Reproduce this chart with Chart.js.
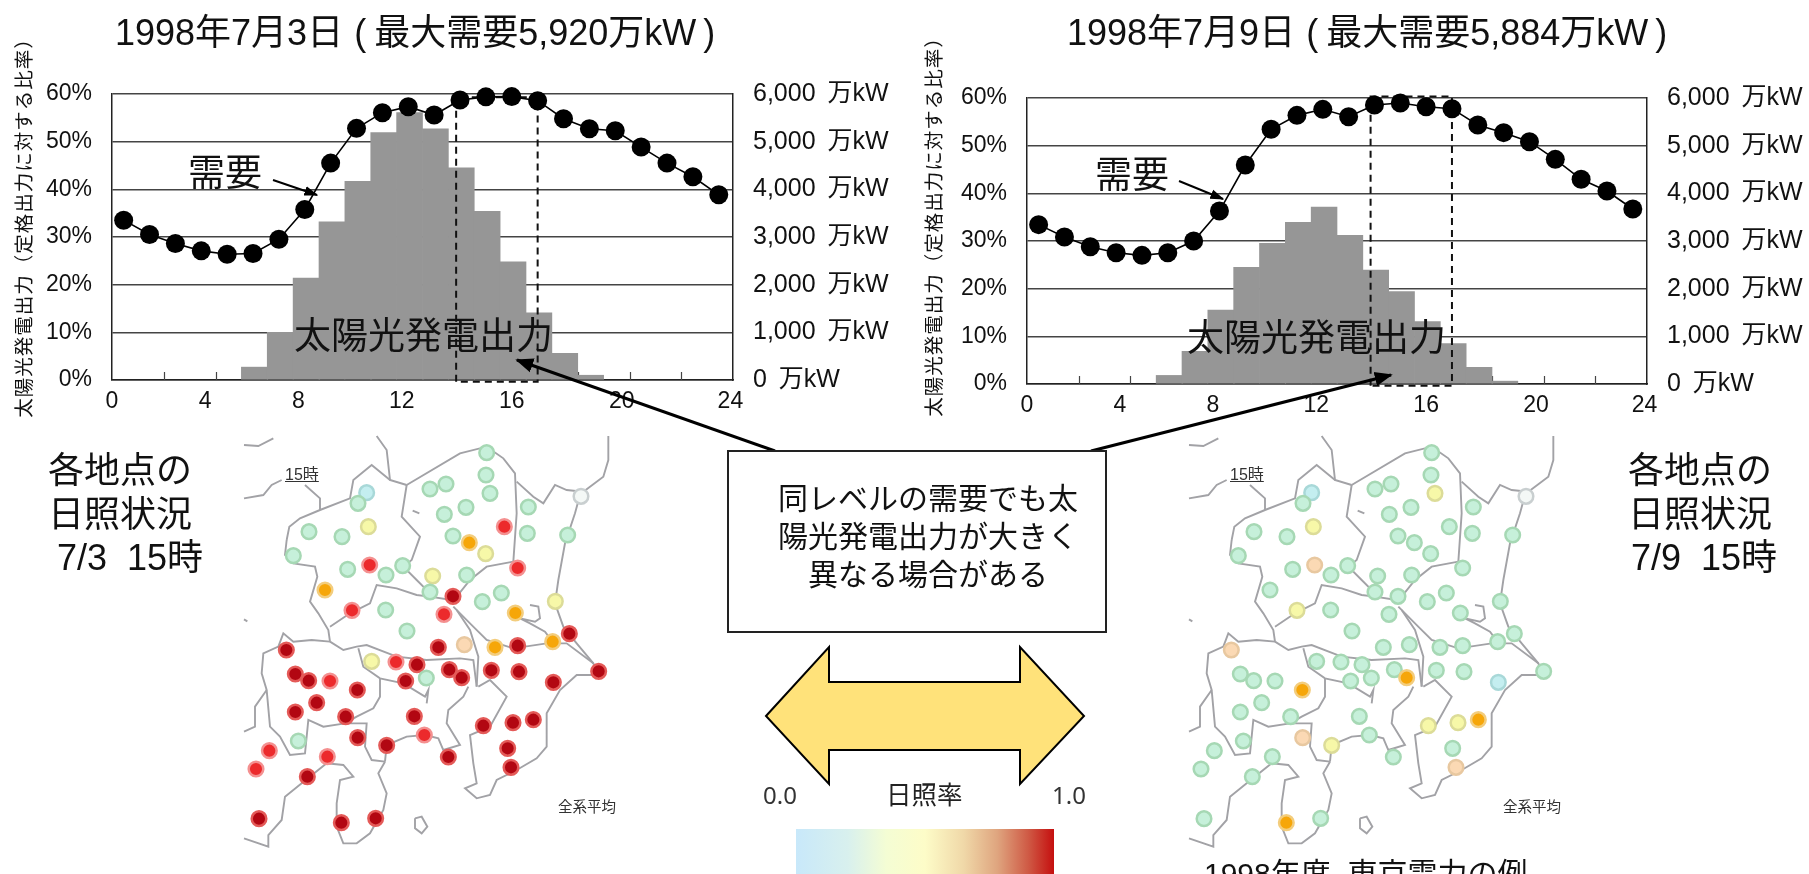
<!DOCTYPE html>
<html lang="ja"><head><meta charset="utf-8">
<script src="https://cdn.jsdelivr.net/npm/chart.js@4"></script>
<style>
html,body{margin:0;padding:0;width:1809px;height:874px;overflow:hidden;background:#fff}
body{position:relative;font-family:"Liberation Sans","Noto Sans CJK JP",sans-serif;color:#111}
canvas{position:absolute;display:block}
.t{position:absolute;white-space:pre;line-height:1;z-index:5}
.c{transform:translateX(-50%);text-align:center}
.v{font-size:19.5px;letter-spacing:1px;transform:translate(-50%,-50%) rotate(-90deg)}
.b{filter:blur(.55px);color:#333}
.pl{margin-left:1px;margin-right:8px}.pr{margin-left:7px}
.nudge{position:relative}
svg{position:absolute;left:0;top:0;z-index:4}
#bar{position:absolute;left:796px;top:829px;width:258px;height:45px;background:linear-gradient(90deg,#c8e8fa 0%,#d8f0ee 20%,#f4fdd4 35%,#fdfcc8 50%,#f0d8a8 65%,#dfa57f 78%,#cf5a45 90%,#c50f0f 100%)}
</style></head><body>
<canvas id="c1" style="left:0;top:0"></canvas>
<canvas id="c2" style="left:905px;top:0"></canvas>
<canvas id="m1" style="left:230px;top:430px;filter:blur(.6px)"></canvas>
<canvas id="m2" style="left:1175px;top:430px;filter:blur(.6px)"></canvas>

<svg width="1809" height="874">
<defs><marker id="h" viewBox="0 0 10 10" refX="9" refY="5" markerWidth="6" markerHeight="6" orient="auto"><path d="M0 1L10 5L0 9z" fill="#000"/></marker>
<marker id="h2" viewBox="0 0 10 10" refX="9" refY="5" markerWidth="7" markerHeight="7" orient="auto"><path d="M0 1.5L10 5L0 8.5z" fill="#000"/></marker></defs>
<line x1="273" y1="180" x2="317" y2="195" stroke="#000" stroke-width="2" marker-end="url(#h2)"/>
<line x1="1179" y1="181" x2="1223" y2="199" stroke="#000" stroke-width="2" marker-end="url(#h2)"/>
<line x1="775" y1="451" x2="517" y2="360" stroke="#000" stroke-width="3" marker-end="url(#h)"/>
<line x1="1091" y1="451" x2="1391" y2="375" stroke="#000" stroke-width="3" marker-end="url(#h)"/>
<rect x="728" y="451" width="378" height="181" fill="#fff" stroke="#222" stroke-width="2"/>
<polygon points="766,716 829,647 829,682 1020,682 1020,647 1084,716 1020,784 1020,750 829,750 829,784" fill="#ffe27a" stroke="#000" stroke-width="2"/>
</svg>
<div id="bar"></div>

<div class="t" style="left:115px;top:15px;font-size:36px">1998年7月3日<span class="pl"> (</span>最大需要5,920万kW<span class="pr">)</span></div>
<div class="t" style="left:1067px;top:15px;font-size:36px">1998年7月9日<span class="pl"> (</span>最大需要5,884万kW<span class="pr">)</span></div>
<div class="t v" style="left:25px;top:223px">太陽光発電出力（定格出力に対する比率）</div>
<div class="t v" style="left:935px;top:222px">太陽光発電出力（定格出力に対する比率）</div>
<div class="t" style="left:188px;top:155px;font-size:37px">需要</div>
<div class="t" style="left:1095px;top:157px;font-size:37px">需要</div>
<div class="t" style="left:294px;top:318px;font-size:37px">太陽光発電出力</div>
<div class="t" style="left:1187px;top:320px;font-size:37px">太陽光発電出力</div>

<div class="t c" style="left:120px;top:449px;font-size:36px;line-height:43.5px">各地点の
日照状況
<span class="nudge" style="left:10px">7/3  15時</span></div>
<div class="t c" style="left:1700px;top:449px;font-size:36px;line-height:43.5px">各地点の
日照状況
<span class="nudge" style="left:4px">7/9  15時</span></div>
<div class="t c" style="left:928px;top:477px;font-size:30px;line-height:38px;font-family:'Noto Sans CJK JP'">同レベルの需要でも太
陽光発電出力が大きく
異なる場合がある</div>
<div class="t" style="left:763px;top:783px;font-size:24px;font-family:'Noto Sans';color:#333">0.0</div>
<div class="t" style="left:886px;top:783px;font-size:25.5px;color:#222">日照率</div>
<div class="t" style="left:1052px;top:783px;font-size:24px;font-family:'Noto Sans';color:#333">1.0</div>
<div class="t" style="left:1204px;top:859px;font-size:30px">1998年度  東京電力の例</div>
<div class="t b" style="left:285px;top:467px;font-size:16px;text-decoration:underline">15時</div>
<div class="t b" style="left:1230px;top:467px;font-size:16px;text-decoration:underline">15時</div>
<div class="t b" style="left:558px;top:800px;font-size:14.5px">全系平均</div>
<div class="t b" style="left:1503px;top:800px;font-size:14.5px">全系平均</div>

<script>
// ---- Hours and tick values
const hours = [0.45,1.45,2.45,3.45,4.45,5.45,6.45,7.45,8.45,9.45,10.45,11.45,12.45,13.45,14.45,15.45,16.45,17.45,18.45,19.45,20.45,21.45,22.45,23.45];
const solarHours = [5.5,6.5,7.5,8.5,9.5,10.5,11.5,12.5,13.5,14.5,15.5,16.5,17.5,18.5];
const hourLabels = ['0','4','8','12','16','20','24'];
const hourLabelPlaces = [0,3.6,7.2,11.2,15.45,19.7,23.9];

// ---- 1998-07-03
const demandJul3 = [3353,3052,2863,2709,2639,2653,2954,3577,4550,5279,5608,5734,5559,5874,5940,5945,5860,5482,5272,5230,4887,4550,4264,3885];
const solarJul3 = [2.7,10,21.4,33.2,41.7,51.9,56.1,52.7,44.5,35.4,24.8,14.1,5.6,1.0];
// ---- 1998-07-09
const demandJul9 = [3343,3084,2881,2755,2699,2755,3000,3629,4594,5343,5636,5762,5608,5853,5895,5818,5776,5434,5273,5084,4713,4294,4049,3671];
const solarJul9 = [1.8,6.85,15.5,24.5,29.5,33.9,37.1,31.2,23.9,19.4,13.1,8.5,3.5,0.6];

// ---- Comparison window (hours) and its top, in 万kW
const windowHours = [13.3,13.3,16.45,16.45,13.3];
const windowJul3 = [-35,5930,5930,-35,-35];
const windowJul9 = [-35,6030,6030,-35,-35];

// ---- Stations: map coordinates
const stationX = [770,768,648,600,780,410,384,708,643,895,1053,415,237,336,823,892,1013,669,718,767,190,353,419,518,468,608,710,863,285,600,669,757,814,976,467,366,642,856,531,1018,625,703,795,863,968,169,425,498,561,658,695,784,867,1106,196,236,300,527,589,382,970,260,196,347,553,760,849,910,205,383,583,470,118,292,655,833,78,843,232,87,334,437];
const stationY = [68,135,162,177,190,188,220,232,253,231,199,290,305,320,290,310,315,318,338,371,377,418,405,407,435,438,435,414,480,486,499,515,489,514,540,541,553,549,603,611,652,644,652,647,635,660,694,696,704,719,743,721,725,724,732,752,753,753,744,780,757,818,846,860,859,887,878,869,933,923,915,946,962,980,981,955,1017,1012,1040,1166,1178,1165];
// ---- Sunshine rate at each station, 15:00
const sunJul3 = [.15,.15,.15,.15,.15,.05,.15,.15,.15,.15,.02,.42,.15,.15,.85,.15,.15,.15,.6,.35,.15,.15,.85,.15,.15,.35,.15,.85,.6,.15,1,.15,.15,.35,.15,.85,.85,.6,.15,1,1,.5,.6,1,.6,1,.35,.85,1,1,1,1,1,1,1,1,.85,1,.15,1,1,1,1,1,1,1,1,1,.15,1,.85,1,.85,.85,1,1,.85,1,1,1,1,1];
const sunJul9 = [.15,.15,.15,.15,.35,.05,.15,.15,.15,.15,.02,.35,.15,.15,.15,.15,.15,.15,.15,.15,.15,.15,.5,.15,.15,.15,.15,.15,.15,.15,.15,.15,.15,.15,.15,.35,.15,.15,.15,.15,.15,.15,.15,.15,.15,.5,.15,.15,.15,.15,.6,.15,.15,.15,.15,.15,.15,.15,.15,.6,.05,.15,.15,.15,.15,.35,.35,.6,.15,.5,.15,.35,.15,.15,.15,.15,.15,.5,.15,.15,.6,.15];

// ---- Map outlines (coastline and prefecture borders)
const outlineNW = [[42,45],[85,48],[130,25]];
const outlineW = [[42,205],[100,195],[125,165],[155,150]];
const outlineLabel = [[225,165],[270,205],[270,240]];
const outlineNorth = [[440,18],[470,60],[480,150],[530,165]];
const outlineGunmaN = [[170,330],[178,290],[210,265],[270,240],[360,205],[370,150],[425,105],[480,150]];
const outlineGunmaW = [[170,330],[165,375],[190,400],[255,410],[262,440],[240,515],[265,550],[295,600],[300,635]];
const outlineGunmaS = [[300,590],[360,550],[420,520],[440,465],[500,475],[560,495],[600,500],[665,510]];
const outlineGunmaE = [[530,165],[515,260],[570,320],[545,390],[520,410],[560,450],[600,490]];
const outlineTochigiN = [[530,165],[690,70],[770,50],[820,85],[855,130],[860,250],[850,395]];
const outlineTochigiS = [[850,395],[770,410],[720,450],[680,500]];
const outlineIbarakiN = [[860,155],[910,200],[940,220],[975,165],[1010,180],[1060,185],[1120,140],[1135,90],[1135,18]];
const outlineCoastE = [[1050,195],[1035,250],[1005,340],[985,450],[975,520],[1000,590],[1040,640],[1090,700],[1105,735]];
const outlineTone = [[670,530],[720,580],[770,630],[850,655],[950,640],[1010,640],[1090,700]];
const outlineLake = [[900,525],[925,530],[930,565],[915,575],[870,565],[900,580],[945,605],[960,625]];
const outlineEdo = [[680,540],[720,600],[745,680],[740,770]];
const outlineSaitamaS = [[300,635],[340,660],[380,650],[410,645],[500,680],[590,690],[690,685],[730,690],[740,770]];
const outlineTokyo = [[385,655],[400,710],[450,745],[520,760],[585,800],[595,780],[590,820]];
const outlineYamanashi = [[300,635],[245,630],[190,635],[160,610],[145,650],[100,670],[95,730],[110,780],[120,890],[150,920],[180,975],[225,970],[235,870],[280,890],[345,880],[410,880],[405,950],[425,990],[465,995]];
const outlineYamanashiE = [[450,745],[450,800],[430,835],[380,860],[345,880]];
const outlineShizuoka = [[110,780],[75,830],[75,890],[42,905]];
const outlineKanagawa = [[465,995],[470,945],[530,920],[585,915],[625,925],[640,960],[690,945],[650,880],[655,840],[700,800],[715,770]];
const outlineIzu = [[465,995],[445,1030],[470,1090],[460,1140],[420,1210],[380,1240],[340,1240],[320,1190],[320,1120],[330,1050],[370,1040],[340,1005],[290,1000],[215,1060],[165,1100],[155,1170],[115,1215],[115,1250],[42,1225]];
const outlineChiba = [[1105,735],[1040,735],[990,780],[950,850],[950,950],[920,985],[860,1020],[800,1050],[780,1095],[740,1105],[705,1075],[740,1060],[730,1000],[720,915],[780,890],[830,800],[780,750],[745,770]];
const outlineIsland = [[555,1165],[575,1160],[592,1190],[575,1210],[555,1195],[555,1165]];
const outlinePond = [[548,242],[568,250]];
const outlineIslet = [[42,568],[52,574]];
const mapOutlines = [outlineNW,outlineW,outlineLabel,outlineNorth,outlineGunmaN,outlineGunmaW,outlineGunmaS,outlineGunmaE,outlineTochigiN,outlineTochigiS,outlineIbarakiN,outlineCoastE,outlineTone,outlineLake,outlineEdo,outlineSaitamaS,outlineTokyo,outlineYamanashi,outlineYamanashiE,outlineShizuoka,outlineKanagawa,outlineIzu,outlineChiba,outlineIsland,outlinePond,outlineIslet];

const toXY = a => a.map(p => ({x:p[0], y:p[1]}));
const zip = (xs,ys) => xs.map((x,i) => ({x, y:ys[i]}));

// Inner tick marks every two hours on the time axis
const innerTicks = {
  id:'innerTicks',
  beforeDatasetsDraw(chart){
    const {ctx, scales:{x,y}} = chart;
    ctx.save(); ctx.strokeStyle='#444'; ctx.lineWidth=1.2; ctx.beginPath();
    for(let h=2;h<24;h+=2){ const px=Math.round(x.getPixelForValue(h))+.5; ctx.moveTo(px,y.bottom); ctx.lineTo(px,y.bottom-8); }
    ctx.stroke(); ctx.restore();
  }
};

function dayChart(id, plot, demand, solar, box){
  return new Chart(document.getElementById(id), {
    type:'bar',
    plugins:[innerTicks],
    data:{ datasets:[
      {type:'line', data:zip(hours,demand), yAxisID:'y1', borderColor:'#000', borderWidth:1.6, backgroundColor:'#000',
       pointRadius:9.5, pointBorderWidth:0, pointBackgroundColor:'#000', tension:0, clip:false, order:1},
      {type:'line', data:zip(windowHours,box), yAxisID:'y1', borderColor:'#111', borderWidth:2, borderDash:[7,5],
       pointRadius:0, fill:false, clip:false, order:2},
      {type:'bar', data:zip(solarHours,solar), yAxisID:'y', backgroundColor:'#969696', borderWidth:0,
       barPercentage:1, categoryPercentage:1, order:3}
    ]},
    options:{
      responsive:false, animation:false, devicePixelRatio:1, events:[],
      layout:{autoPadding:false,padding:{top:plot.top,left:0,right:0,bottom:0}},
      plugins:{legend:{display:false},tooltip:{enabled:false},title:{display:false}},
      scales:{
        x:{type:'linear',min:0,max:24,offset:false,
           grid:{display:false,drawTicks:false}, border:{display:true,color:'#222',width:1.5},
           afterBuildTicks(s){s.ticks=hourLabelPlaces.map(value=>({value}));},
           ticks:{autoSkip:false,maxRotation:0,padding:8,color:'#111',font:{family:'"Liberation Sans"',size:23},
                  callback:(v,i)=>hourLabels[i]},
           afterFit(s){s.height=plot.bottomH;}},
        y:{position:'left',min:0,max:60,
           grid:{color:'#444',lineWidth:1.5,drawTicks:false}, border:{display:true,color:'#222',width:1.5},
           ticks:{stepSize:10,padding:plot.padL,color:'#111',font:{family:'"Liberation Sans"',size:23},callback:v=>v+'%'},
           afterFit(s){s.width=plot.left;}},
        y1:{position:'right',min:0,max:6000,
           grid:{display:false,drawTicks:false}, border:{display:true,color:'#222',width:1.5},
           ticks:{stepSize:1000,padding:plot.padR,color:'#111',font:{family:'"Liberation Sans","Noto Sans CJK JP"',size:25},
                  callback:v=>v.toLocaleString('en-US')+' \u2009万kW'},
           afterFit(s){s.width=plot.right;}}
      }
    }
  });
}
function sizeCanvas(id,w,h){const c=document.getElementById(id);c.width=w;c.height=h;c.style.width=w+'px';c.style.height=h+'px';}
sizeCanvas('c1',905,430); sizeCanvas('c2',904,430);
dayChart('c1',{top:94,bottomH:50,left:112,right:172,padL:20,padR:20},demandJul3,solarJul3,windowJul3);
dayChart('c2',{top:98,bottomH:46,left:122,right:162,padL:20,padR:20},demandJul9,solarJul9,windowJul9);

// Colour of a station from its sunshine rate
function fillOf(v){
  if(v<.04) return '#f4f8f6'; if(v<.1) return '#c4eef0'; if(v<.25) return '#c6f0da'; if(v<.45) return '#f7f8a8';
  if(v<.55) return '#fbd9b4'; if(v<.7) return '#f6a609'; if(v<.95) return '#ec2a2c'; return '#b20712';
}
function ringOf(v){
  if(v<.04) return '#c9cfd0'; if(v<.1) return '#a8d8d8'; if(v<.25) return '#a6d8b4'; if(v<.45) return '#dcdc98';
  if(v<.55) return '#e8c8a0'; if(v<.7) return '#f3cd7d'; if(v<.95) return '#f49090'; return '#e45a58';
}
function mapChart(id, sun){
  const outlineSets = mapOutlines.map(o=>({type:'line',data:toXY(o),borderColor:'#a2a2a6',borderWidth:1.9,pointRadius:0,tension:0,clip:false,order:2}));
  return new Chart(document.getElementById(id), {
    type:'scatter',
    data:{datasets:[
      {type:'scatter',data:zip(stationX,stationY),order:1,clip:false,pointRadius:7.3,pointBorderWidth:2.5,
       pointBackgroundColor:ctx=>fillOf(sun[ctx.dataIndex]),pointBorderColor:ctx=>ringOf(sun[ctx.dataIndex])},
      ...outlineSets
    ]},
    options:{responsive:false,animation:false,devicePixelRatio:1,events:[],
      layout:{autoPadding:false,padding:0},
      plugins:{legend:{display:false},tooltip:{enabled:false}},
      scales:{x:{type:'linear',display:false,min:0,max:1200},y:{type:'linear',display:false,reverse:true,min:0,max:1332}}}
  });
}
sizeCanvas('m1',400,444); sizeCanvas('m2',400,444);
mapChart('m1',sunJul3);
mapChart('m2',sunJul9);
</script>
</body></html>
